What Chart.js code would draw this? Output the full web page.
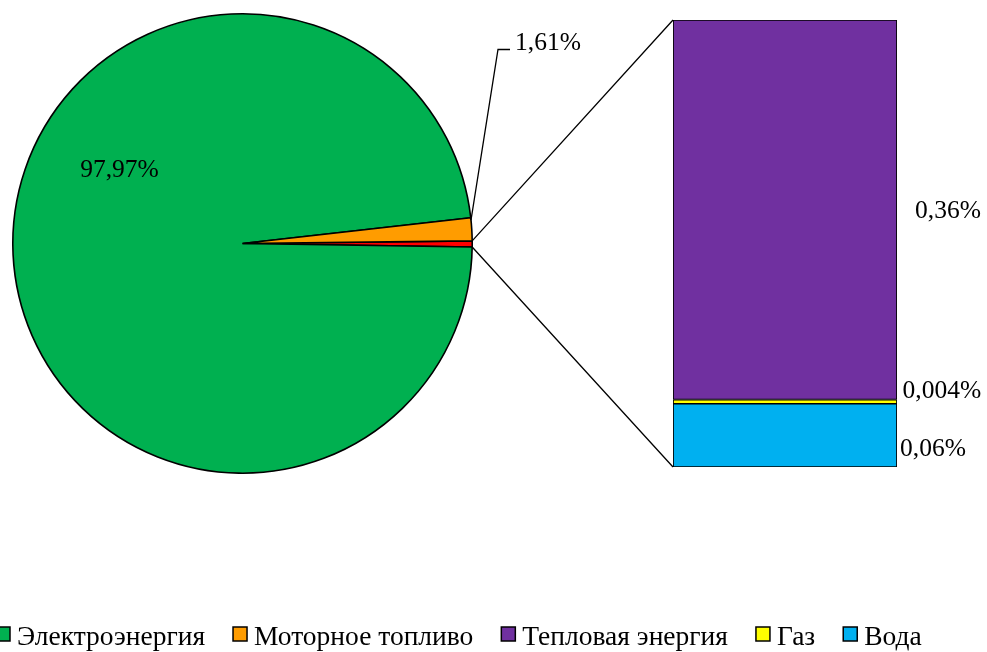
<!DOCTYPE html>
<html><head><meta charset="utf-8">
<script src="https://cdn.jsdelivr.net/npm/chart.js@4.4.1/dist/chart.umd.min.js"></script>
<style>
html,body{margin:0;padding:0;background:#fff;}
#wrap{position:relative;width:987px;height:652px;overflow:hidden;background:#fff;}
#wrap canvas{position:absolute;left:0;top:0;}
</style></head><body>
<div id="wrap"><canvas id="pie" width="987" height="652"></canvas><canvas id="bar" width="987" height="652"></canvas></div>
<script>
// Main shares shown in the pie
const pieLabels = ['Электроэнергия', 'Моторное топливо'];
const pieValues = [97.97, 1.61];
const pieValueText = ['97,97%', '1,61%'];

// Breakdown of the small remainder, stacked bottom to top
const barLabels = ['Вода', 'Газ', 'Тепловая энергия'];
const barValues = [0.06, 0.004, 0.36];
const barValueText = ['0,06%', '0,004%', '0,36%'];

// Legend order
const legendLabels = ['Электроэнергия', 'Моторное топливо', 'Тепловая энергия', 'Газ', 'Вода'];

const colors = {
  'Электроэнергия': '#00B050',
  'Моторное топливо': '#FF9C00',
  'Тепловая энергия': '#7030A0',
  'Газ': '#FFFF00',
  'Вода': '#00B0F0',
  'other': '#FF0000'
};

// The remainder slice equals the sum of the stacked bar parts
const otherTotal = barValues.reduce((a, b) => a + b, 0);

const SERIF = '"Liberation Serif", "Times New Roman", serif';
const LABEL_FONT = '25.5px ' + SERIF;
const LEGEND_FONT = '27.5px ' + SERIF;
Chart.defaults.font.family = SERIF;

const pieAnnot = {
  id: 'pieAnnot',
  afterDraw(chart) {
    const ctx = chart.ctx;
    const arcs = chart.getDatasetMeta(0).data;
    const green = arcs[1], orange = arcs[2];
    ctx.save();
    ctx.font = LABEL_FONT;
    ctx.fillStyle = '#000';
    ctx.strokeStyle = '#000';
    ctx.lineWidth = 1.3;
    ctx.textBaseline = 'alphabetic';

    // label inside the large slice
    ctx.textAlign = 'center';
    ctx.fillText(pieValueText[0], green.x - 123, green.y - 67);

    // leader line and label for the thin slice
    const a = orange.startAngle + 0.1 * (orange.endAngle - orange.startAngle);
    const sx = orange.x + orange.outerRadius * Math.cos(a);
    const sy = orange.y + orange.outerRadius * Math.sin(a);
    const lx = orange.x + 272.5, ly = orange.y - 193.5;
    ctx.beginPath();
    ctx.moveTo(sx, sy);
    ctx.lineTo(lx - 17, ly - 0.5);
    ctx.lineTo(lx - 5, ly - 0.5);
    ctx.stroke();
    ctx.textAlign = 'left';
    ctx.fillText(pieValueText[1], lx, ly);

    // legend row
    ctx.font = LEGEND_FONT;
    const box = 14, textGap = 21, itemGap = 28, baseY = 645;
    let x = -4;
    legendLabels.forEach(name => {
      ctx.fillStyle = colors[name];
      ctx.fillRect(x, baseY - 18, box, box);
      ctx.lineWidth = 1.5;
      ctx.strokeStyle = '#000';
      ctx.strokeRect(x, baseY - 18, box, box);
      ctx.fillStyle = '#000';
      ctx.fillText(name, x + textGap, baseY);
      x += textGap + ctx.measureText(name).width + itemGap;
    });
    ctx.restore();
  }
};

const pieChart = new Chart(document.getElementById('pie'), {
  type: 'pie',
  data: {
    labels: ['Прочее', ...pieLabels],
    datasets: [{
      data: [otherTotal, ...pieValues],
      backgroundColor: [colors.other, colors[pieLabels[0]], colors[pieLabels[1]]],
      borderColor: '#000',
      borderWidth: 1.6
    }]
  },
  options: {
    responsive: false,
    animation: false,
    devicePixelRatio: 1,
    rotation: 89.35,
    layout: { padding: { left: 12, top: 13, right: 514, bottom: 178 } },
    plugins: { legend: { display: false }, tooltip: { enabled: false } }
  },
  plugins: [pieAnnot]
});

const labelOffsetX = [3, 5.5, 18];
const barAnnot = {
  id: 'barAnnot',
  afterDraw(chart) {
    const ctx = chart.ctx;
    const yScale = chart.scales.y;
    const first = chart.getDatasetMeta(0).data[0];
    const left = first.x - first.width / 2;
    const right = first.x + first.width / 2;
    const top = yScale.getPixelForValue(otherTotal);
    const bottom = yScale.getPixelForValue(0);

    // connector lines from the remainder slice to the bar
    const red = pieChart.getDatasetMeta(0).data[0];
    const p1x = red.x + red.outerRadius * Math.cos(red.startAngle);
    const p1y = red.y + red.outerRadius * Math.sin(red.startAngle);
    const p2x = red.x + red.outerRadius * Math.cos(red.endAngle);
    const p2y = red.y + red.outerRadius * Math.sin(red.endAngle);
    ctx.save();
    ctx.strokeStyle = '#000';
    ctx.lineWidth = 1.3;
    ctx.beginPath();
    ctx.moveTo(p1x, p1y); ctx.lineTo(left, top);
    ctx.moveTo(p2x, p2y); ctx.lineTo(left, bottom);
    ctx.stroke();

    // value labels beside the bar, spread apart when crowded
    const ys = barValues.map((v, i) => {
      const el = chart.getDatasetMeta(i).data[0];
      return (el.y + el.base) / 2;
    });
    const minGap = 58;
    if (Math.abs(ys[0] - ys[1]) < minGap) {
      const avg = (ys[0] + ys[1]) / 2;
      ys[0] = avg + minGap / 2;
      ys[1] = avg - minGap / 2;
    }
    ctx.font = LABEL_FONT;
    ctx.fillStyle = '#000';
    ctx.textAlign = 'left';
    ctx.textBaseline = 'middle';
    barValueText.forEach((t, i) => {
      ctx.fillText(t, right + labelOffsetX[i], ys[i] + 1.5);
    });
    ctx.restore();
  }
};

new Chart(document.getElementById('bar'), {
  type: 'bar',
  data: {
    labels: [''],
    datasets: barLabels.map((name, i) => ({
      label: name,
      data: [barValues[i]],
      backgroundColor: colors[name],
      borderColor: '#000',
      borderWidth: 1.2,
      borderSkipped: false,
      barPercentage: 1,
      categoryPercentage: 1
    }))
  },
  options: {
    responsive: false,
    animation: false,
    devicePixelRatio: 1,
    layout: { padding: { left: 673, right: 90, top: 20, bottom: 185 } },
    scales: {
      x: { display: false, stacked: true },
      y: { display: false, stacked: true, min: 0, max: otherTotal }
    },
    plugins: { legend: { display: false }, tooltip: { enabled: false } }
  },
  plugins: [barAnnot]
});
</script>
</body></html>
